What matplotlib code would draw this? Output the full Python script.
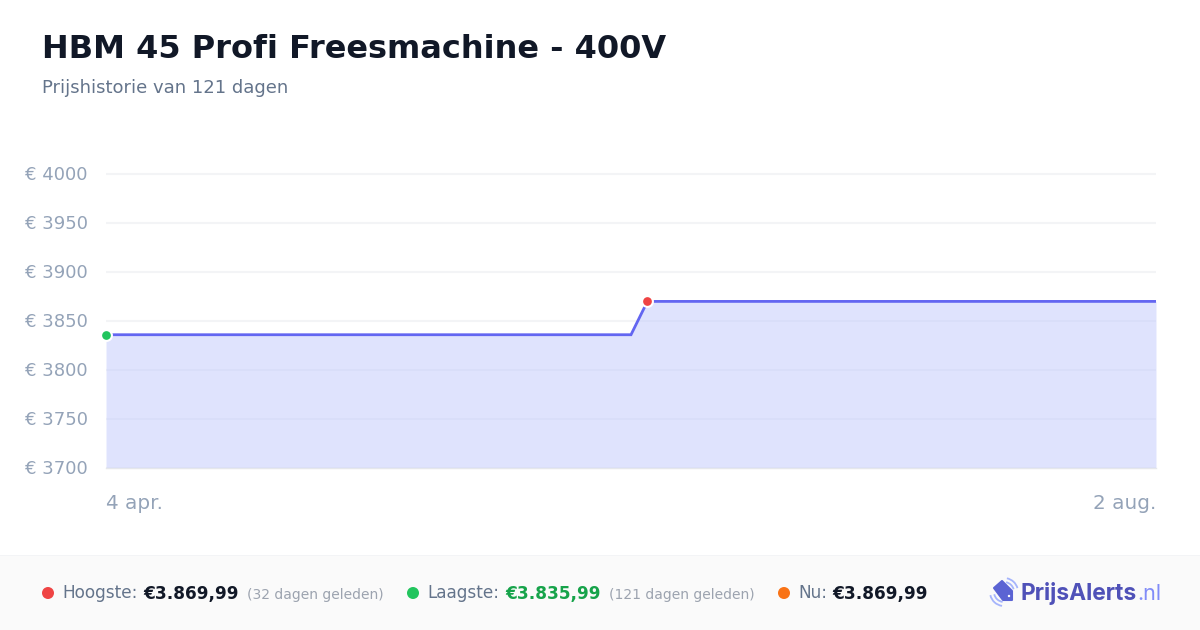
import matplotlib
matplotlib.use('Agg')
import matplotlib.pyplot as plt
from matplotlib.patches import Rectangle, Polygon, Arc, Circle
from matplotlib.transforms import ScaledTranslation

# -------------------- Data -------------------- #
title = "HBM 45 Profi Freesmachine - 400V"
subtitle = "Prijshistorie van 121 dagen"

# index of the price points where the line changes
point_idx = [0, 32, 33, 64]
prices = [3835.99, 3835.99, 3869.99, 3869.99]
high_idx, high_price = 33, 3869.99
low_idx, low_price = 0, 3835.99

y_ticks = [3700, 3750, 3800, 3850, 3900, 3950, 4000]
x_tick_idx = [0, 64]
x_tick_labels = ["4 apr.", "2 aug."]

W, H = 1200, 630


def fx(px):
    return px / W


def fy(px):
    return 1 - px / H


fig = plt.figure(figsize=(12, 6.3), dpi=100, facecolor='white')
plt.rcParams['font.family'] = 'DejaVu Sans'

# -------------------- Background layer in pixel coordinates -------------------- #
la = fig.add_axes([0, 0, 1, 1], facecolor='none', zorder=0)
la.set_xlim(0, W)
la.set_ylim(H, 0)
la.axis('off')
la.add_patch(Rectangle((0, 555), W, 75, facecolor='#fafafa', edgecolor='none'))
la.add_patch(Rectangle((0, 554.5), W, 1, facecolor='#f3f4f6', edgecolor='none'))

# -------------------- Chart -------------------- #
ax = fig.add_axes([fx(106), fy(468), fx(1050), (468 - 174) / H], zorder=1)
ax.set_xlim(0, 64)
ax.set_ylim(3700, 4000)
ax.set_facecolor('none')
for name, s in ax.spines.items():
    s.set_visible(name == 'bottom')
ax.spines['bottom'].set_color('#e5e7eb')
ax.spines['bottom'].set_linewidth(1)

ax.set_yticks(y_ticks)
ax.set_yticklabels([f"€ {v}" for v in y_ticks], color='#94a3b8', fontsize=13)
ax.set_xticks(x_tick_idx)
ax.set_xticklabels(x_tick_labels, color='#94a3b8', fontsize=14.4)
ax.get_xticklabels()[0].set_ha('left')
ax.get_xticklabels()[1].set_ha('right')
ax.tick_params(axis='both', length=0)
ax.tick_params(axis='y', pad=13)
ax.tick_params(axis='x', pad=19)
up = ScaledTranslation(0, 1 / 100, fig.dpi_scale_trans)
for lab in ax.get_yticklabels():
    lab.set_transform(lab.get_transform() + up)
ax.grid(axis='y', color='#f3f4f6', linewidth=1.5, zorder=0, clip_on=False, solid_capstyle='butt')
ax.set_axisbelow(True)

ax.fill_between(point_idx, prices, 3700, color='#c1c9fd', alpha=0.5, linewidth=0, zorder=2)
ax.plot(point_idx, prices, color='#6366f1', linewidth=2, solid_joinstyle='miter',
        solid_capstyle='butt', clip_on=False, zorder=3)
ax.plot([high_idx], [high_price], 'o', color='#ef4444', markersize=7.8, markeredgecolor='white',
        markeredgewidth=1.5, clip_on=False, zorder=4)
ax.plot([low_idx], [low_price], 'o', color='#22c55e', markersize=7.8, markeredgecolor='white',
        markeredgewidth=1.5, clip_on=False, zorder=4)

# -------------------- Header -------------------- #
fig.text(fx(42), fy(58), title, fontsize=23.04, fontweight='bold', color='#111827', va='baseline')
fig.text(fx(42), fy(93), subtitle, fontsize=13, color='#64748b', va='baseline')


# -------------------- Footer stats -------------------- #
def dot(px, color):
    la.add_patch(Circle((px, 593), 6, facecolor=color, edgecolor='none'))


def foot(px, s, color, size=12.2, weight='normal', **kw):
    fig.text(fx(px), fy(598.5), s, fontsize=size, color=color, fontweight=weight, va='baseline', **kw)


dot(48, '#ef4444')
foot(62, "Hoogste:", '#64748b')
foot(143, "€3.869,99", '#111827', weight='bold')
foot(247, "(32 dagen geleden)", '#9ca3af', size=10)

dot(413, '#22c55e')
foot(427, "Laagste:", '#64748b')
foot(505, "€3.835,99", '#16a34a', weight='bold')
foot(609, "(121 dagen geleden)", '#9ca3af', size=10)

dot(784, '#f97316')
foot(798, "Nu:", '#64748b')
foot(832, "€3.869,99", '#111827', weight='bold')

# -------------------- Logo -------------------- #
la.add_patch(Polygon([(994, 588), (1002, 581), (1012, 591), (1012, 600), (1003, 600)],
                     closed=True, facecolor='#5b63d3', edgecolor='#5b63d3', linewidth=1.5,
                     joinstyle='round'))
la.add_patch(Circle((1009, 596), 1.2, facecolor='white', edgecolor='none'))
for d in (20, 28):
    la.add_patch(Arc((1004, 592), d, d, theta1=-78, theta2=-16, color='#a5b4fc', linewidth=1.3))
    la.add_patch(Arc((1004, 592), d, d, theta1=98, theta2=167, color='#a5b4fc', linewidth=1.3))
fig.text(fx(1021), fy(600), "PrijsAlerts", fontsize=16.4, fontweight='bold',
         family='Inter', color='#4f51b8', va='baseline')
fig.text(fx(1137), fy(600), ".nl", fontsize=15.5, family='Inter', color='#818cf8', va='baseline')

fig.savefig('out.png', dpi=100, facecolor='white')
